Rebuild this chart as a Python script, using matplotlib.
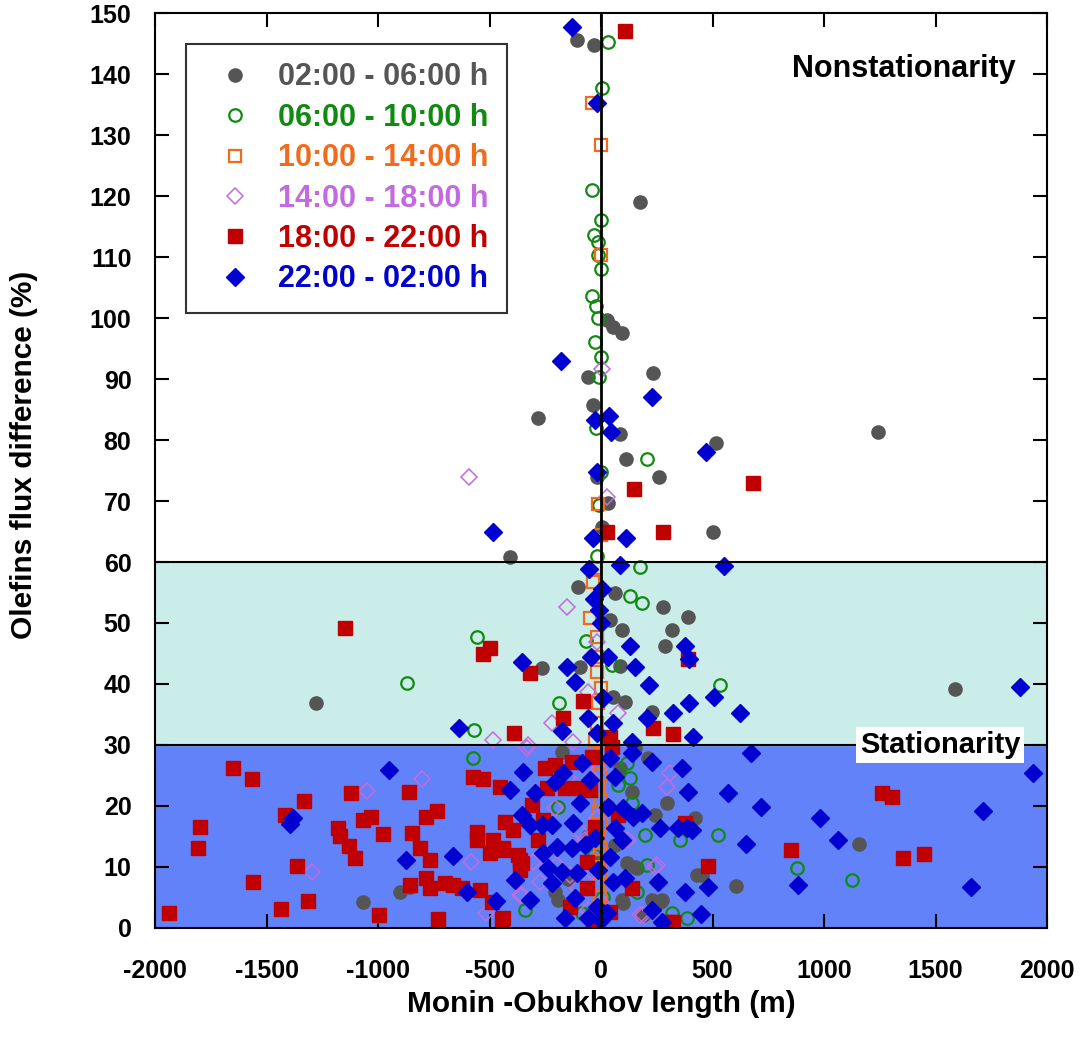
import matplotlib.pyplot as plt
import numpy as np

plt.rcParams['font.family'] = ['Liberation Sans', 'DejaVu Sans']
plt.rcParams['font.weight'] = 'bold'
plt.rcParams['axes.unicode_minus'] = False

# 02:00 - 06:00 h
x_g = [-108, -31, 175, 27, 94, 54, -58, 233, -283, -36, 85, 112, 260, 516, 1242, 502, -18, 31, 4,
       -408, -1278, -103, 63, 40, 94, 278, 390, 318, 287, -265, -94, 85, 54, 108, 229, 1587,
       -175, 211, 85, 296, 242, 421, 63, 117, 152, 430, -206, -193, 94, 229, 274, 188,
       605, 1157, -1067, -901, -857, 161, 453, 265, 99, 139, 152, -150, -60, 30, -20]
y_g = [145.6, 144.8, 119, 99.7, 97.5, 98.5, 90.3, 91, 83.6, 85.7, 81, 76.9, 73.9, 79.5, 81.3, 64.9, 74, 69.7, 65.7,
       60.8, 36.9, 55.9, 54.9, 50.5, 48.9, 52.6, 51, 48.9, 46.2, 42.6, 42.8, 43, 37.9, 37, 35.4, 39.2,
       28.9, 27.9, 26.2, 20.5, 18.5, 18, 13.6, 10.7, 10, 8.7, 5.9, 4.6, 4.6, 4.6, 4.6, 2.1,
       6.9, 13.8, 4.3, 5.9, 6.7, 9.8, 8.7, 4.3, 4.1, 22.3, 29.5, 8, 15, 20, 11]

# 06:00 - 10:00 h
x_gr = [31, 4, -40, 0, -31, -13, -13, 0, -40, -22, -13, -27, 0, -9, -22, 206, 0, -9, -18,
        175, 130, 184, -67, 49, -188, 534, -556, -870, -570, -574,
        130, 76, 139, 197, 354, 206, 161, -341, -85, 318, 386, -193, 525, 879, 1126, 117, -30, 10]
y_gr = [145.2, 137.7, 121, 116, 113.6, 112.5, 110.3, 108, 103.6, 102, 100, 96, 93.6, 90.3, 82, 76.9, 74.8, 69.3, 61,
        59.2, 54.4, 53.3, 47, 43.1, 36.9, 39.8, 47.7, 40.2, 32.5, 27.9,
        24.6, 23.4, 20.5, 15.2, 14.4, 10.3, 5.9, 3, 2.5, 2.5, 1.6, 19.8, 15.2, 9.8, 7.9, 27, 12, 5]

# 10:00 - 14:00 h
x_o = [-40, 0, 0, -13, 0, -27, -36, -49, -18, -18, -18, 0, -13, -18, -27,
       -8, -5, -10, -3, -8, -6, -12, -4, -8, -2, -10, -6, -9, -4, -7, 0, -11, -5]
y_o = [135.2, 128.4, 110.3, 69.5, 64.4, 59, 56.7, 50.8, 47.7, 44.4, 42, 39.3, 36.9, 33.6, 30.8,
       0.5, 2, 3.5, 5, 7, 9, 11, 13, 15, 17, 19, 21, 23, 25, 27, 28.5, 1, 12]

# 14:00 - 18:00 h
x_v = [4, -592, 27, -152, -18, -58, -220, 76, -126, -327, -484, -332, -803, -1049, -1296,
       309, 296, -148, -206, -94, -72, 121, -305, -197, -139, -274, -354, -103, 242, 188, 0, -40,
       -583, -363, -516, 251, 175, -20, -60, -10]
y_v = [91.6, 74, 70.7, 52.6, 46.9, 38.7, 33.6, 35.2, 30.5, 30, 30.8, 29.5, 24.4, 22.5, 9.2,
       25.4, 23.1, 24.6, 19.7, 15.7, 14.4, 14.4, 10.8, 10.3, 8.7, 7.5, 5.4, 6.6, 10, 2.1, 4.3, 9.2,
       10.8, 5.4, 2.5, 10.3, 2.1, 18, 3, 26]

# 18:00 - 22:00 h
x_r = [108, 148, 278, 682, 27, -1148, -498, -529, -318, -81, -170, -390, 233, 323, 390, 40,
       1260, 1305, 852, 1354, 1448, 480, 377, 139, 323,
       -1650, -1565, -1332, -1417, -1798, -1807, -1561, -1937, -1435, -1314, -1363,
       -1121, -1179, -1170, -1130, -1103, -1067, -1031, -978, -996, -861, -848, -812, -767,
       -785, -767, -857, -731, -785, -735, -700, -664, -623, -543, -489, -444,
       -574, -529, -556, -556, -484, -498, -439, -363, -363,
       -251, -206, -130, -40, 49, -453, -242, -161, -94, -49, -309, -430, -395, -260, -283,
       -27, 76, -439, -372, -354, -63, -63, -139, 40, 309, -439, -36]
y_r = [147, 72, 64.9, 73, 64.9, 49.2, 45.9, 44.9, 41.8, 37.2, 34.4, 32, 32.8, 31.8, 44.1, 31.3,
       22.1, 21.5, 12.8, 11.5, 12.1, 10.2, 17.2, 6.6, 1,
       26.2, 24.4, 20.8, 18.5, 16.6, 13.1, 7.5, 2.5, 3.1, 4.4, 10.2,
       22.1, 16.4, 15, 13.4, 11.5, 17.7, 18.2, 15.4, 2.1, 22.3, 15.6, 13.1, 11.1,
       8.2, 6.6, 7, 1.5, 18.2, 19.2, 7.4, 7, 6.6, 6.2, 4.3, 1.5,
       24.8, 24.4, 15.7, 14.4, 14.4, 12.3, 12.8, 11.1, 9.5,
       26.2, 26.7, 27.2, 28, 29.7, 23.1, 23, 23, 23, 22.6, 20.2, 17.4, 16.1, 17.7, 14.4,
       16.6, 18.5, 13.1, 12, 10.7, 10.8, 6.6, 3.4, 2.6, 1, 1.6, 0.5]

# 22:00 - 02:00 h
x_b = [-130, -18, -179, 229, -27, 36, 45, 471, -18, -484, 112, -36, 552,
       85, -54, 4, -31, -9, 0, 130, 377, 395, -45, 31, -354, -152, 152, -117, 215, 395, 323, 206,
       9, -58, 54, -175, -18, 139, 413, -637, 623, 507, 673,
       -350, -408, -296, -206, -170, -85, -49, 40, 63, 139, 229, 363, 390, -94, 31, 99, 143, 184,
       -354, -318, -265, -220, -126, 63, 94, 265, 386, -197, -130, -72, -27, -260, 40, -238, -175,
       -108, -13, -386, -220, 54, 108, 256, 377, -318, -117, -18, 27, 229, 274, -161, -58, 0,
       -951, -1381, -1395, -874, -664, -601, -471, 570, 717, 982, 1063, 650, 1937, 1713, 1879,
       1659, 883, 480, 448, 345, 408]
y_b = [147.7, 135.2, 93, 87, 83.3, 83.9, 81.3, 78, 74.8, 64.9, 63.9, 63.9, 59.3,
       59.5, 58.9, 55.6, 53.9, 52.1, 50, 46.2, 46.2, 44.1, 44.4, 44.4, 43.6, 42.8, 42.8, 40.3, 39.8, 36.9, 35.2, 34.4,
       37.7, 34.4, 33.6, 32.3, 32, 30.5, 31.3, 32.8, 35.2, 37.9, 28.7,
       25.6, 22.6, 22.1, 23.9, 25.4, 27, 24.3, 27.9, 24.8, 28.7, 27.2, 26.2, 22.3, 20.5, 19.8, 19.7, 18.2, 18.9,
       18.5, 16.9, 16.9, 16.9, 17.2, 16.4, 14.4, 16.4, 16.4, 13.3, 13.1, 13.6, 14.8, 12.3, 11.6, 9.8, 9.2,
       9, 9.5, 7.9, 7.4, 7.5, 8.2, 7.5, 5.9, 4.6, 4.9, 3.4, 2.5, 3, 1, 1.6, 1.6, 1.3,
       25.9, 18, 17.1, 11.1, 11.8, 5.9, 4.4, 22.1, 19.8, 18, 14.4, 13.8, 25.4, 19.2, 39.5,
       6.7, 7, 6.7, 2.3, 16.4, 16.1]

labels = ['02:00 - 06:00 h', '06:00 - 10:00 h', '10:00 - 14:00 h',
          '14:00 - 18:00 h', '18:00 - 22:00 h', '22:00 - 02:00 h']
colors = ['#555555', '#108a10', '#f26a1b', '#c46ae0', '#c00000', '#0000d0']

fig = plt.figure(figsize=(10.81, 10.5), dpi=100)
ax = fig.add_axes([0.1434, 0.1162, 0.8252, 0.8714])

ax.axhspan(0, 30, color='#6282fa', zorder=0)
ax.axhspan(30, 60, color='#caede9', zorder=0)

ax.plot(x_g, y_g, 'o', ms=9.5, color=colors[0], mec=colors[0], label=labels[0], zorder=2)
ax.plot(x_gr, y_gr, 'o', ms=9, mfc='none', mec=colors[1], mew=1.6, label=labels[1], zorder=2)
ax.plot(x_o, y_o, 's', ms=8.5, mfc='none', mec=colors[2], mew=1.6, label=labels[2], zorder=2)
ax.plot(x_v, y_v, 'D', ms=8.5, mfc='none', mec=colors[3], mew=1.1, label=labels[3], zorder=2)
ax.plot(x_r, y_r, 's', ms=9.5, color=colors[4], mec=colors[4], label=labels[4], zorder=2)
ax.plot(x_b, y_b, 'D', ms=9, color=colors[5], mec=colors[5], label=labels[5], zorder=2)

ax.axhline(30, color='black', lw=1.5, zorder=3)
ax.axhline(60, color='black', lw=1.5, zorder=3)
ax.axvline(0, color='black', lw=2, zorder=3)

ax.set_xlim(-2000, 2000)
ax.set_ylim(0, 150)
ax.set_xticks(np.arange(-2000, 2001, 500))
ax.set_yticks(np.arange(0, 151, 10))
ax.tick_params(axis='both', direction='in', length=10, width=1.5, labelsize=18,
               top=True, right=True)
ax.tick_params(axis='x', pad=22)
ax.tick_params(axis='y', pad=17)
for s in ax.spines.values():
    s.set_linewidth(1.5)

fig.text(601 / 1081, 1 - 1004 / 1050, 'Monin -Obukhov length (m)', ha='center', va='center',
         fontsize=21.5, fontweight='bold')
fig.text(24 / 1081, 1 - 455 / 1050, 'Olefins flux difference (%)', ha='center', va='center',
         rotation=90, fontsize=21.5, fontweight='bold')

ax.text(0.839, 0.939, 'Nonstationarity', transform=ax.transAxes, ha='center', va='center',
        fontsize=22, fontweight='bold', zorder=5)
ax.text(1520, 30, 'Stationarity', ha='center', va='center', fontsize=21, fontweight='bold',
        zorder=5, bbox=dict(facecolor='white', edgecolor='none', pad=3))

leg = ax.legend(loc='upper left', bbox_to_anchor=(0.035, 0.966), frameon=True, fancybox=False,
                edgecolor='black', fontsize=22, handletextpad=0.4, borderpad=0.6,
                labelspacing=0.34, handlelength=2.0, borderaxespad=0)
leg.get_frame().set_linewidth(1.5)
leg.set_zorder(6)
for t, c in zip(leg.get_texts(), colors):
    t.set_color(c)
    t.set_fontweight('bold')

fig.savefig('out.png', dpi=100)
